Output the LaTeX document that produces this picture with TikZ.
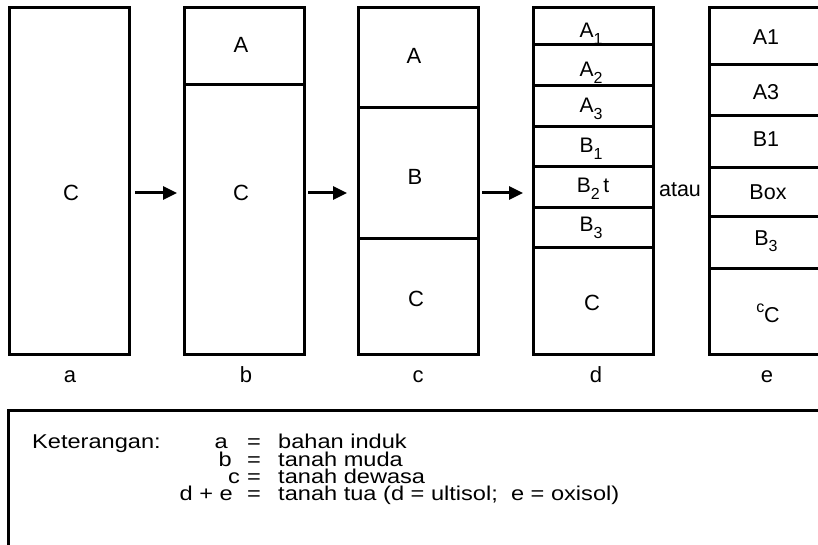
\documentclass[tikz,border=0pt]{standalone}
\usepackage{fontspec}
\setmainfont{Liberation Sans}
\newfontfamily\legfont[FakeStretch=1.18]{Liberation Sans}
\usetikzlibrary{arrows.meta}
\newcommand\sbs[2][16]{\raisebox{-0.3em}{\fontsize{#1}{#1}\selectfont #2}}
\newcommand\sps[1]{\raisebox{0.45em}{\fontsize{16}{16}\selectfont #1}}
\tikzset{
  col/.style={draw, line width=3pt, minimum width=120pt, minimum height=346pt, inner sep=0pt, outer sep=0pt},
  div/.style={line width=3pt},
  arr/.style={line width=3pt, -{Triangle[length=14pt,width=13pt]}},
  big/.style={font=\fontsize{22}{26}\selectfont, inner sep=0pt, anchor=base},
  mid/.style={font=\fontsize{21.5}{25}\selectfont, inner sep=0pt, anchor=base},
  sml/.style={font=\fontsize{21}{24}\selectfont, inner sep=0pt, anchor=base},
  leg/.style={font=\legfont\fontsize{20}{22}\selectfont, inner sep=0pt},
}
\begin{document}
\begin{tikzpicture}[x=1pt, y=-1pt]
\useasboundingbox (0,0) rectangle (818,545);
\clip (0,0) rectangle (818,545);
% columns
\node[col] (a) at (69,181) {};
\node[col] (b) at (244,181) {};
\node[col] (c) at (418,181) {};
\node[col] (d) at (593,181) {};
\node[col] (e) at (769,181) {};
% dividers
\foreach \y in {85} \draw[div] (b.west |- 0,\y) -- (b.east |- 0,\y);
\foreach \y in {108,238} \draw[div] (c.west |- 0,\y) -- (c.east |- 0,\y);
\foreach \y in {45,86,127,167,208,247} \draw[div] (d.west |- 0,\y) -- (d.east |- 0,\y);
\foreach \y in {65,116,168,217,268} \draw[div] (e.west |- 0,\y) -- (e.east |- 0,\y);
% arrows
\draw[arr] ([shift={(6,12)}]a.east) -- ([shift={(-7,12)}]b.west);
\draw[arr] ([shift={(4,12)}]b.east) -- ([shift={(-11,12)}]c.west);
\draw[arr] ([shift={(4,12)}]c.east) -- ([shift={(-10,12)}]d.west);
% labels a
\node[big] (aC) at (71,201) {C};
% b
\node[big] (bA) at (241,53) {A};
\node[big] (bC) at (241,201) {C};
% c
\node[big] (cA) at (414,64) {A};
\node[big] (cB) at (415,185) {B};
\node[big] (cC) at (416,306) {C};
% d
\node[sml] (dA1) at (591,38) {A\sbs{1}};
\node[sml] (dA2) at (591,77) {A\sbs{2}};
\node[sml] (dA3) at (591,113) {A\sbs{3}};
\node[sml] (dB1) at (591,153) {B\sbs{1}};
\node[sml] (dB2) at (593,193) {B\sbs{2}\,t};
\node[sml] (dB3) at (591,232) {B\sbs{3}};
\node[big] (dC) at (592,310) {C};
% atau
\node[mid] (atau) at (680,197) {atau};
% e
\node[mid] (eA1) at (766,45) {A1};
\node[mid] (eA3) at (766,100) {A3};
\node[mid] (eB1) at (766,147) {B1};
\node[mid] (eBox) at (768,200) {Box};
\node[mid] (eB3) at (766,245) {B\sbs[16]{3}};
\node[mid] (eCC) at (768,322) {\sps{c}C};
% bottom labels
\node[big] (la) at (70,382) {a};
\node[big] (lb) at (246,382) {b};
\node[big] (lc) at (418,382) {c};
\node[big] (ld) at (596,382) {d};
\node[big] (le) at (767,382) {e};
% legend
\draw[line width=3pt] (8,600) -- (8,410) -- (840,410);
\node[leg, anchor=base west] (ket) at (32,448) {Keterangan:};
\node[leg, anchor=base east] (k1) at (228,448) {a};
\node[leg, anchor=base east] (k2) at (232,466) {b};
\node[leg, anchor=base east] (k3) at (240,483) {c};
\node[leg, anchor=base east] (k4) at (233,500) {d + e};
\node[leg, anchor=base west] (e1) at (247,448) {=};
\node[leg, anchor=base west] (e2) at (247,466) {=};
\node[leg, anchor=base west] (e3) at (247,483) {=};
\node[leg, anchor=base west] (e4) at (247,500) {=};
\node[leg, anchor=base west] (t1) at (278,448) {bahan induk};
\node[leg, anchor=base west] (t2) at (278,466) {tanah muda};
\node[leg, anchor=base west] (t3) at (278,483) {tanah dewasa};
\node[leg, anchor=base west] (t4) at (278,500) {tanah tua (d = ultisol;\ \ e = oxisol)};
\end{tikzpicture}
\end{document}
